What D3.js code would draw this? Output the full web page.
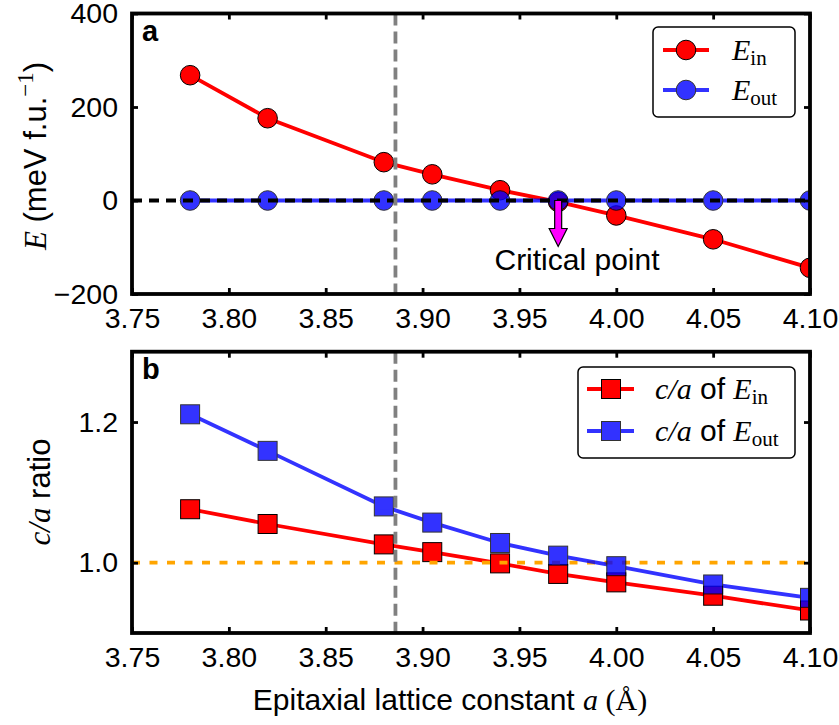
<!DOCTYPE html>
<html>
<head>
<meta charset="utf-8">
<script src="https://cdn.jsdelivr.net/npm/d3@7"></script>
<style>
  html, body { margin: 0; padding: 0; background: #fff; }
  svg { display: block; }
  .sans { font-family: "Liberation Sans", Arial, Helvetica, sans-serif; }
  .math { font-family: "Liberation Serif", "Times New Roman", serif; }
</style>
</head>
<body>
<svg id="fig" width="839" height="725"></svg>
<script>
// Epitaxial lattice constant a (Å)
const latticeA = [3.78, 3.82, 3.88, 3.905, 3.94, 3.97, 4.00, 4.05, 4.10];
// Energies (meV per formula unit), relative to E_out
const energyIn  = [268, 176, 82, 56, 22, -3, -32, -83, -144];
const energyOut = [0, 0, 0, 0, 0, 0, 0, 0, 0];
// c/a ratios for each polarization state
const ratioIn  = [1.076, 1.055, 1.026, 1.015, 0.999, 0.984, 0.972, 0.953, 0.932];
const ratioOut = [1.211, 1.159, 1.080, 1.057, 1.028, 1.010, 0.995, 0.969, 0.950];
// Tick values
const xTicks = [3.75, 3.80, 3.85, 3.90, 3.95, 4.00, 4.05, 4.10];
const energyTicks = [-200, 0, 200, 400];
const ratioTicks = [1.0, 1.2];
// Reference lines
const criticalA = 3.97;
const bulkA = 3.886;

const svg = d3.select("#fig");
const left = 132, right = 810;
const LW = 3.8;

const x = d3.scaleLinear().domain([3.75, 4.10]).range([left, right]);
const yE = d3.scaleLinear().domain([-200, 400]).range([294, 13.5]);
const yR = d3.scaleLinear().domain([0.9, 1.3]).range([633, 351.7]);

const defs = svg.append("defs");

function panel(id, y, ticksY, fmtY, label) {
  const [y0, y1] = y.range();
  defs.append("clipPath").attr("id", id)
    .append("rect").attr("x", left).attr("y", y1).attr("width", right - left).attr("height", y0 - y1);
  const g = svg.append("g");
  const plot = g.append("g").attr("clip-path", `url(#${id})`);
  const over = g.append("g");

  // axes with inward ticks on all four sides
  const tickLen = 6;
  const axes = g.append("g");
  const bottom = d3.axisBottom(x).tickValues(xTicks).tickSize(-tickLen).tickPadding(tickLen + 8).tickFormat(d3.format(".2f"));
  const top = d3.axisTop(x).tickValues(xTicks).tickSize(-tickLen).tickFormat("");
  const lAx = d3.axisLeft(y).tickValues(ticksY).tickSize(-tickLen).tickPadding(tickLen + 8).tickFormat(fmtY);
  const rAx = d3.axisRight(y).tickValues(ticksY).tickSize(-tickLen).tickFormat("");
  [[bottom, `translate(0,${y0})`], [top, `translate(0,${y1})`], [lAx, `translate(${left},0)`], [rAx, `translate(${right},0)`]]
    .forEach(([ax, tr]) => {
      const a = axes.append("g").attr("transform", tr).call(ax);
      a.select(".domain").remove();
      a.selectAll(".tick line").attr("stroke", "#000").attr("stroke-width", 2.8);
      a.selectAll(".tick text").attr("font-size", 28.5).attr("fill", "#000")
        .style("font-family", '"Liberation Sans", Arial, sans-serif');
    });

  // frame
  g.append("rect").attr("x", left).attr("y", y1).attr("width", right - left).attr("height", y0 - y1)
    .attr("fill", "none").attr("stroke", "#000").attr("stroke-width", 3.8);

  g.append("text").attr("class", "sans").attr("x", 142).attr("y", y1 + 27)
    .attr("font-size", 29).attr("font-weight", "bold").text(label);
  return { g, plot, over };
}

// ---------- panel a: energies ----------
const pa = panel("clipA", yE, energyTicks, d => d3.format("d")(d).replace("-", "\u2212"), "a");
const lineE = d3.line().x(d => x(d[0])).y(d => yE(d[1]));

pa.plot.append("path").datum(d3.zip(latticeA, energyIn)).attr("d", lineE)
  .attr("fill", "none").attr("stroke", "#ff0000").attr("stroke-width", LW);
pa.plot.append("g").selectAll("circle").data(d3.zip(latticeA, energyIn)).join("circle")
  .attr("cx", d => x(d[0])).attr("cy", d => yE(d[1])).attr("r", 9.8)
  .attr("fill", "#ff0000").attr("stroke", "#000").attr("stroke-width", 1);

const outA = pa.plot.append("g").attr("opacity", 0.8);
outA.append("path").datum(d3.zip(latticeA, energyOut)).attr("d", lineE)
  .attr("fill", "none").attr("stroke", "#0000ff").attr("stroke-width", LW);
outA.selectAll("circle").data(d3.zip(latticeA, energyOut)).join("circle")
  .attr("cx", d => x(d[0])).attr("cy", d => yE(d[1])).attr("r", 9.8)
  .attr("fill", "#0000ff").attr("stroke", "#000").attr("stroke-width", 1);

// zero-energy reference
pa.plot.append("line").attr("x1", left).attr("x2", right).attr("y1", yE(0)).attr("y2", yE(0))
  .attr("stroke", "#000").attr("stroke-width", LW).attr("stroke-dasharray", "10,7");

pa.plot.append("line").attr("x1", x(bulkA)).attr("x2", x(bulkA)).attr("y1", yE.range()[1]).attr("y2", yE.range()[0])
  .attr("stroke", "#808080").attr("stroke-width", LW).attr("stroke-dasharray", "12,6");

// critical point arrow
const cx0 = x(criticalA), cy0 = yE(0);
const arrow = [[-3.5, 0], [3.5, 0], [3.5, 28], [9, 28], [0, 46], [-9, 28], [-3.5, 28]];
pa.over.append("polygon").attr("points", arrow.map(p => [cx0 + p[0], cy0 + p[1]].join(",")).join(" "))
  .attr("fill", "#ff00ff").attr("stroke", "#000").attr("stroke-width", 1.2);
pa.over.append("text").attr("class", "sans").attr("x", 577).attr("y", 270).attr("text-anchor", "middle")
  .attr("font-size", 30).text("Critical point");

// legend a
const legA = pa.over.append("g");
legA.append("rect").attr("x", 653).attr("y", 27).attr("width", 142).attr("height", 90).attr("rx", 5)
  .attr("fill", "#fff").attr("stroke", "#000").attr("stroke-width", 1.5);
[[50, "#ff0000", 1, "in"], [90, "#0000ff", 0.8, "out"]].forEach(([ly, col, op, sub]) => {
  const e = legA.append("g").attr("opacity", op);
  e.append("line").attr("x1", 663).attr("x2", 709).attr("y1", ly).attr("y2", ly).attr("stroke", col).attr("stroke-width", LW);
  e.append("circle").attr("cx", 686).attr("cy", ly).attr("r", 9.8).attr("fill", col).attr("stroke", "#000").attr("stroke-width", 1);
  const t = legA.append("text").attr("class", "math").attr("x", 732).attr("y", ly + 10).attr("font-size", 30);
  t.append("tspan").attr("font-style", "italic").text("E");
  t.append("tspan").attr("font-size", 21).attr("dy", 5).text(sub);
});

// y label a
const ylA = svg.append("text").attr("transform", "translate(46,156) rotate(-90)").attr("text-anchor", "middle").attr("font-size", 31);
ylA.append("tspan").attr("class", "math").attr("font-style", "italic").text("E");
ylA.append("tspan").attr("class", "sans").text(" (meV f.u.");
ylA.append("tspan").attr("class", "math").attr("font-size", 23).attr("dy", -13).text("\u22121");
ylA.append("tspan").attr("class", "sans").attr("dy", 13).text(")");

// ---------- panel b: c/a ratio ----------
const pb = panel("clipB", yR, ratioTicks, d3.format(".1f"), "b");
const lineR = d3.line().x(d => x(d[0])).y(d => yR(d[1]));
const sq = 19;

pb.plot.append("path").datum(d3.zip(latticeA, ratioIn)).attr("d", lineR)
  .attr("fill", "none").attr("stroke", "#ff0000").attr("stroke-width", LW);
pb.plot.append("g").selectAll("rect").data(d3.zip(latticeA, ratioIn)).join("rect")
  .attr("x", d => x(d[0]) - sq / 2).attr("y", d => yR(d[1]) - sq / 2).attr("width", sq).attr("height", sq)
  .attr("fill", "#ff0000").attr("stroke", "#000").attr("stroke-width", 1);

pb.plot.append("line").attr("x1", left).attr("x2", right).attr("y1", yR(1)).attr("y2", yR(1))
  .attr("stroke", "#ffa500").attr("stroke-width", LW).attr("stroke-dasharray", "8,9.5");

const outB = pb.plot.append("g").attr("opacity", 0.8);
outB.append("path").datum(d3.zip(latticeA, ratioOut)).attr("d", lineR)
  .attr("fill", "none").attr("stroke", "#0000ff").attr("stroke-width", LW);
outB.selectAll("rect").data(d3.zip(latticeA, ratioOut)).join("rect")
  .attr("x", d => x(d[0]) - sq / 2).attr("y", d => yR(d[1]) - sq / 2).attr("width", sq).attr("height", sq)
  .attr("fill", "#0000ff").attr("stroke", "#000").attr("stroke-width", 1);

pb.plot.append("line").attr("x1", x(bulkA)).attr("x2", x(bulkA)).attr("y1", yR.range()[1]).attr("y2", yR.range()[0])
  .attr("stroke", "#808080").attr("stroke-width", LW).attr("stroke-dasharray", "12,6");

// legend b
const legB = pb.over.append("g");
legB.append("rect").attr("x", 578).attr("y", 367).attr("width", 217).attr("height", 91).attr("rx", 5)
  .attr("fill", "#fff").attr("stroke", "#000").attr("stroke-width", 1.5);
[[389, "#ff0000", 1, "in"], [431, "#0000ff", 0.8, "out"]].forEach(([ly, col, op, sub]) => {
  const e = legB.append("g").attr("opacity", op);
  e.append("line").attr("x1", 587).attr("x2", 634).attr("y1", ly).attr("y2", ly).attr("stroke", col).attr("stroke-width", LW);
  e.append("rect").attr("x", 611 - sq / 2).attr("y", ly - sq / 2).attr("width", sq).attr("height", sq)
    .attr("fill", col).attr("stroke", "#000").attr("stroke-width", 1);
  const t = legB.append("text").attr("x", 655).attr("y", ly + 10).attr("font-size", 30);
  t.append("tspan").attr("class", "math").attr("font-style", "italic").text("c/a");
  t.append("tspan").attr("class", "sans").text(" of ");
  t.append("tspan").attr("class", "math").attr("font-style", "italic").text("E");
  t.append("tspan").attr("class", "math").attr("font-size", 21).attr("dy", 5).text(sub);
});

// y label b
const ylB = svg.append("text").attr("transform", "translate(50,492) rotate(-90)").attr("text-anchor", "middle").attr("font-size", 31);
ylB.append("tspan").attr("class", "math").attr("font-style", "italic").text("c/a");
ylB.append("tspan").attr("class", "sans").text(" ratio");

// x label
const xl = svg.append("text").attr("x", 450).attr("y", 710).attr("text-anchor", "middle").attr("font-size", 30);
xl.append("tspan").attr("class", "sans").text("Epitaxial lattice constant ");
xl.append("tspan").attr("class", "math").attr("font-style", "italic").text("a");
xl.append("tspan").attr("class", "math").text(" (\u00c5)");
</script>
</body>
</html>
